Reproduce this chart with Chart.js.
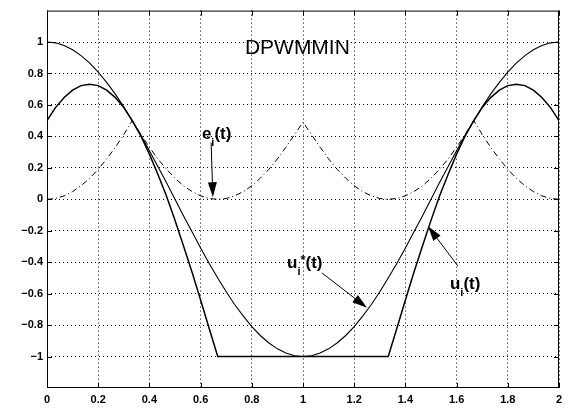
<!DOCTYPE html>
<html>
<head>
<meta charset="utf-8">
<script src="https://cdn.jsdelivr.net/npm/chart.js@4/dist/chart.umd.min.js"></script>
<style>
  html, body { margin: 0; padding: 0; background: #fff; }
</style>
</head>
<body>
<canvas id="dpwm" width="573" height="418"></canvas>
<script>
// time axis (one period, t = 0 .. 2)
var tValues = [0, 0.033, 0.067, 0.1, 0.133, 0.167, 0.2, 0.233, 0.267, 0.3,
  0.333, 0.367, 0.4, 0.433, 0.467, 0.5, 0.533, 0.567, 0.6, 0.633,
  0.667, 0.7, 0.733, 0.767, 0.8, 0.833, 0.867, 0.9, 0.933, 0.967,
  1, 1.033, 1.067, 1.1, 1.133, 1.167, 1.2, 1.233, 1.267, 1.3,
  1.333, 1.367, 1.4, 1.433, 1.467, 1.5, 1.533, 1.567, 1.6, 1.633,
  1.667, 1.7, 1.733, 1.767, 1.8, 1.833, 1.867, 1.9, 1.933, 1.967, 2];

// u_i*(t) reference
var uStar = [1, 0.995, 0.978, 0.951, 0.914, 0.866, 0.809, 0.743, 0.669, 0.588,
  0.5, 0.407, 0.309, 0.208, 0.105, 0, -0.105, -0.208, -0.309, -0.407,
  -0.5, -0.588, -0.669, -0.743, -0.809, -0.866, -0.914, -0.951, -0.978, -0.995,
  -1, -0.995, -0.978, -0.951, -0.914, -0.866, -0.809, -0.743, -0.669, -0.588,
  -0.5, -0.407, -0.309, -0.208, -0.105, 0, 0.105, 0.208, 0.309, 0.407,
  0.5, 0.588, 0.669, 0.743, 0.809, 0.866, 0.914, 0.951, 0.978, 0.995, 1];

// u_i(t) modulated
var uMod = [0.5, 0.583, 0.647, 0.694, 0.723, 0.732, 0.723, 0.694, 0.647, 0.583,
  0.5, 0.402, 0.287, 0.159, 0.019, -0.134, -0.296, -0.465, -0.64, -0.819,
  -1, -1, -1, -1, -1, -1, -1, -1, -1, -1,
  -1, -1, -1, -1, -1, -1, -1, -1, -1, -1,
  -1, -0.819, -0.64, -0.465, -0.296, -0.134, 0.019, 0.159, 0.287, 0.402,
  0.5, 0.583, 0.647, 0.694, 0.723, 0.732, 0.723, 0.694, 0.647, 0.583, 0.5];

// e_i(t)
var eSig = [0, 0.005, 0.022, 0.049, 0.086, 0.134, 0.191, 0.257, 0.331, 0.412,
  0.5, 0.412, 0.331, 0.257, 0.191, 0.134, 0.086, 0.049, 0.022, 0.005,
  0, 0.005, 0.022, 0.049, 0.086, 0.134, 0.191, 0.257, 0.331, 0.412,
  0.49, 0.412, 0.331, 0.257, 0.191, 0.134, 0.086, 0.049, 0.022, 0.005,
  0, 0.005, 0.022, 0.049, 0.086, 0.134, 0.191, 0.257, 0.331, 0.412,
  0.5, 0.412, 0.331, 0.257, 0.191, 0.134, 0.086, 0.049, 0.022, 0.005, 0];

var xTicks = [0, 0.2, 0.4, 0.6, 0.8, 1, 1.2, 1.4, 1.6, 1.8, 2];
var xTickLabels = ['0', '0.2', '0.4', '0.6', '0.8', '1', '1.2', '1.4', '1.6', '1.8', '2'];
var yTicks = [-1, -0.8, -0.6, -0.4, -0.2, 0, 0.2, 0.4, 0.6, 0.8, 1];
var yTickLabels = ['\u22121', '\u22120.8', '\u22120.6', '\u22120.4', '\u22120.2', '0', '0.2', '0.4', '0.6', '0.8', '1'];

var FONT = '"Liberation Sans", Arial, Helvetica, sans-serif';

function pts(ys) {
  return tValues.map(function (t, i) { return { x: t, y: ys[i] }; });
}

function arrow(ctx, x1, y1, x2, y2) {
  var a = Math.atan2(y2 - y1, x2 - x1);
  var len = 15, half = 4.5;
  ctx.beginPath();
  ctx.moveTo(x1, y1);
  ctx.lineTo(x2 - Math.cos(a) * len * 0.8, y2 - Math.sin(a) * len * 0.8);
  ctx.stroke();
  ctx.beginPath();
  ctx.moveTo(x2, y2);
  ctx.lineTo(x2 - Math.cos(a) * len + Math.sin(a) * half, y2 - Math.sin(a) * len - Math.cos(a) * half);
  ctx.lineTo(x2 - Math.cos(a) * len - Math.sin(a) * half, y2 - Math.sin(a) * len + Math.cos(a) * half);
  ctx.closePath();
  ctx.fill();
}

// label like u_i*(t) : base, subscript, superscript, rest
function label(ctx, x, y, base, sub, sup, rest) {
  ctx.font = 'bold 17px ' + FONT;
  ctx.fillText(base, x, y);
  var w = ctx.measureText(base).width;
  ctx.font = 'bold 11px ' + FONT;
  ctx.fillText(sub, x + w, y + 7);
  var sw = ctx.measureText(sub).width;
  if (sup) {
    ctx.font = 'bold 13px ' + FONT;
    ctx.fillText(sup, x + w + sw, y - 4);
    sw += ctx.measureText(sup).width;
  }
  ctx.font = 'bold 17px ' + FONT;
  ctx.fillText(rest, x + w + sw, y);
}

var framePlugin = {
  id: 'frame',
  afterDatasetsDraw: function (chart) {
    var ctx = chart.ctx, a = chart.chartArea;
    var sx = chart.scales.x, sy = chart.scales.y;
    ctx.save();
    ctx.strokeStyle = '#000';
    ctx.fillStyle = '#000';
    ctx.lineWidth = 1;
    ctx.setLineDash([]);
    // box
    ctx.strokeRect(a.left + 0.5, a.top + 0.5, a.right - a.left - 1, a.bottom - a.top - 1);
    // inward ticks
    ctx.beginPath();
    xTicks.forEach(function (v) {
      var px = Math.round(sx.getPixelForValue(v)) + 0.5;
      ctx.moveTo(px, a.bottom); ctx.lineTo(px, a.bottom - 5);
      ctx.moveTo(px, a.top); ctx.lineTo(px, a.top + 5);
    });
    yTicks.forEach(function (v) {
      var py = Math.round(sy.getPixelForValue(v)) + 0.5;
      ctx.moveTo(a.left, py); ctx.lineTo(a.left + 5, py);
      ctx.moveTo(a.right, py); ctx.lineTo(a.right - 5, py);
    });
    ctx.stroke();

    // annotations
    ctx.textBaseline = 'alphabetic';
    ctx.textAlign = 'left';
    ctx.font = '21px ' + FONT;
    ctx.fillText('DPWMMIN', sx.getPixelForValue(0.773), sy.getPixelForValue(0.924));

    label(ctx, sx.getPixelForValue(0.605), sy.getPixelForValue(0.386), 'e', 'i', '', '(t)');
    arrow(ctx, sx.getPixelForValue(0.641), sy.getPixelForValue(0.361),
               sx.getPixelForValue(0.648), sy.getPixelForValue(0.013));

    label(ctx, sx.getPixelForValue(0.9375), sy.getPixelForValue(-0.437), 'u', 'i', '*', '(t)');
    arrow(ctx, sx.getPixelForValue(1.074), sy.getPixelForValue(-0.468),
               sx.getPixelForValue(1.25), sy.getPixelForValue(-0.69));

    label(ctx, sx.getPixelForValue(1.574), sy.getPixelForValue(-0.57), 'u', 'i', '', '(t)');
    arrow(ctx, sx.getPixelForValue(1.605), sy.getPixelForValue(-0.424),
               sx.getPixelForValue(1.488), sy.getPixelForValue(-0.171));
    ctx.restore();
  }
};

var canvasElement = document.getElementById('dpwm');
var config = {
  type: 'line',
  data: {
    datasets: [{
      label: 'u_i*(t)',
      data: pts(uStar),
      borderColor: '#000',
      borderWidth: 1.1,
      pointRadius: 0,
      fill: false
    }, {
      label: 'u_i(t)',
      data: pts(uMod),
      borderColor: '#000',
      borderWidth: 1.5,
      pointRadius: 0,
      fill: false
    }, {
      label: 'e_i(t)',
      data: pts(eSig),
      borderColor: '#000',
      borderWidth: 1,
      borderDash: [6, 3, 1, 3],
      pointRadius: 0,
      fill: false
    }]
  },
  options: {
    responsive: false,
    animation: false,
    devicePixelRatio: 1,
    layout: { padding: { top: 10, right: 14, left: 0, bottom: 0 } },
    plugins: {
      legend: { display: false },
      tooltip: { enabled: false }
    },
    scales: {
      x: {
        type: 'linear',
        min: 0,
        max: 2,
        afterBuildTicks: function (scale) {
          scale.ticks = xTicks.map(function (v) { return { value: v }; });
        },
        afterFit: function (scale) { scale.height = 30; },
        ticks: {
          color: '#000',
          padding: 5,
          maxRotation: 0,
          font: { family: FONT, size: 11, weight: 'bold' },
          callback: function (v, i) { return xTickLabels[i]; }
        },
        grid: { color: '#000', lineWidth: 1, drawTicks: false },
        border: { display: false, dash: [1, 3] }
      },
      y: {
        type: 'linear',
        min: -1.2,
        max: 1.2,
        afterBuildTicks: function (scale) {
          scale.ticks = yTicks.map(function (v) { return { value: v }; });
        },
        afterFit: function (scale) { scale.width = 47; },
        ticks: {
          color: '#000',
          padding: 4,
          font: { family: FONT, size: 11, weight: 'bold' },
          callback: function (v, i) { return yTickLabels[i]; }
        },
        grid: { color: '#000', lineWidth: 1, drawTicks: false },
        border: { display: false, dash: [1, 3] }
      }
    }
  },
  plugins: [framePlugin]
};

var dpwmChart = new Chart(canvasElement, config);
</script>
</body>
</html>
